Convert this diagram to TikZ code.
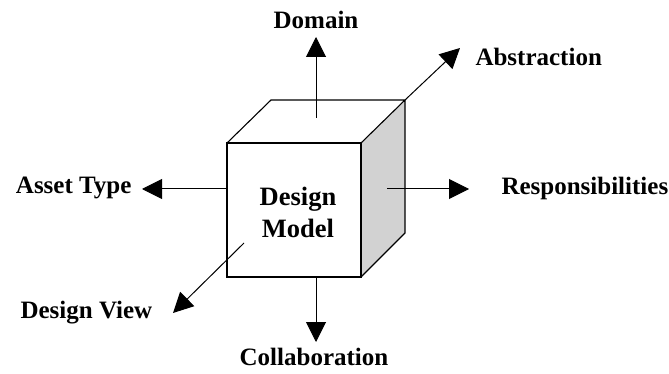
\documentclass[tikz,border=0pt]{standalone}
\usepackage{fontspec}
\setmainfont{Liberation Serif}
\usetikzlibrary{arrows.meta}

\begin{document}
\begin{tikzpicture}[x=1pt,y=-1pt,
		font=\bfseries\fontsize{25}{29}\selectfont,
		axis/.style={-{Triangle[length=20pt,width=20pt]},line width=1pt}]
		\useasboundingbox (0,0) rectangle (669,374);
		% the cube
		\fill[gray!35] (361,143) -- (405,100) -- (405,233) -- (361,277) -- cycle;
		\draw[line width=1.1pt] (227,143) rectangle (361,277);
		\draw[line width=1.1pt] (227,143) -- (271,100) -- (405,100) -- (361,143)
			(405,100) -- (405,233) -- (361,277);
		\node[align=center,font=\bfseries\fontsize{26.5}{32}\selectfont] (M) at (298,212) {Design\\Model};
		%
		\node (D) at (316,20) {Domain};
		\node[anchor=west] (A) at (472,57) {Abstraction};
		\node[anchor=east] (T) at (135,188) {Asset Type};
		\node[anchor=west] (R) at (498,188) {Responsibilities};
		\node[anchor=west] (V) at (17,313) {Design View};
		\node (C) at (314,357) {Collaboration};
		%
		\coordinate (d0) at (316,118);
		\coordinate (d1) at (316,37);
		\coordinate (a0) at (405,100);
		\coordinate (a1) at (460,48);
		\coordinate (t0) at (227,189);
		\coordinate (t1) at (142,189);
		\coordinate (r0) at (387,189);
		\coordinate (r1) at (469,189);
		\coordinate (v0) at (244,243);
		\coordinate (v1) at (173,313);
		\coordinate (c0) at (316,277);
		\coordinate (c1) at (316,342);
		%
		\path[axis]
		(d0) edge (d1)
		(a0) edge (a1)
		(t0) edge (t1)
		(r0) edge (r1)
		(v0) edge (v1)
		(c0) edge (c1);
		\end{tikzpicture}
\end{document}
